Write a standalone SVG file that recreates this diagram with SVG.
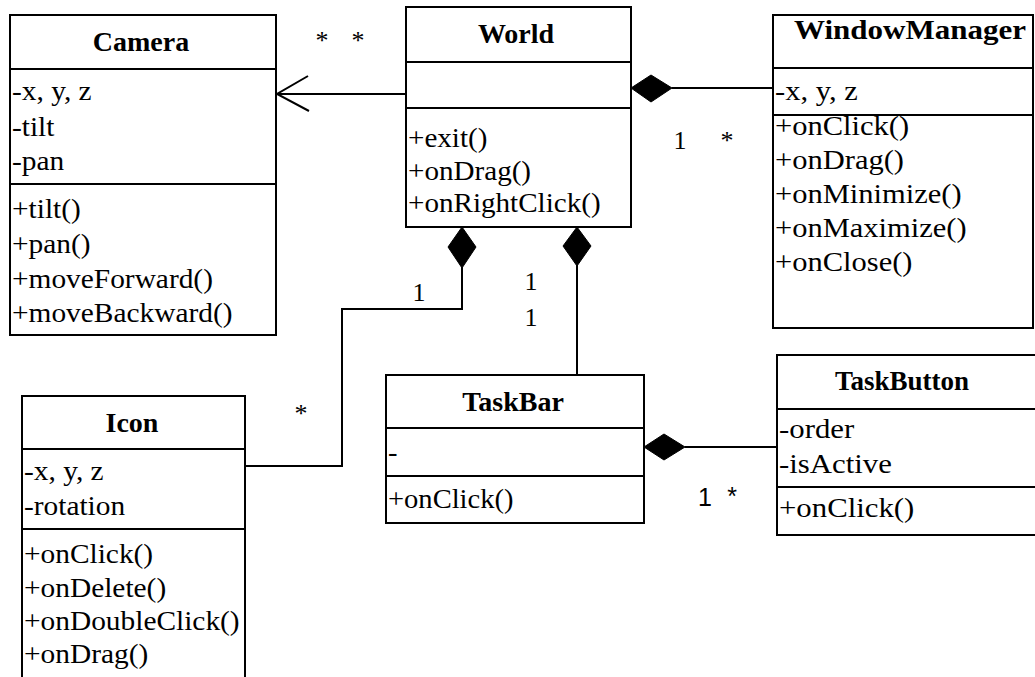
<svg xmlns="http://www.w3.org/2000/svg" width="1035" height="677" viewBox="0 0 1035 677">
<style>
.box{fill:#fff;stroke:#000;stroke-width:2}
.sep{stroke:#000;stroke-width:2}
.t{font-family:"Liberation Serif","Times New Roman",serif;font-size:28px;font-weight:bold;text-anchor:middle;fill:#000}
.m{font-family:"Liberation Serif","Times New Roman",serif;font-size:28px;fill:#000;transform-box:fill-box;transform-origin:left center}
#camera .m,#icon .m{transform:scaleX(1.05)}
#world .m{transform:scaleX(1.04)}
#windowmanager .m{transform:scaleX(1.09)}
#taskbar .m{transform:scaleX(1.02)}
#taskbutton .m{transform:scaleX(1.1)}
.lbl{font-family:"Liberation Serif","Times New Roman",serif;font-size:26px;fill:#000;text-anchor:middle}
.lbls{font-family:"Liberation Sans",Arial,sans-serif;font-size:25px;fill:#000;text-anchor:middle}
.c{fill:none;stroke:#000;stroke-width:2}
.d{fill:#000;stroke:#000;stroke-width:1}
</style>
<rect width="1035" height="677" fill="#fff"/>
<g id="connectors">
<line class="c" x1="406" y1="94" x2="277" y2="94"/>
<polyline class="c" points="308,76 277,94 309,111"/>
<line class="c" x1="672" y1="88" x2="773" y2="88"/>
<polygon class="d" points="631,88 651,75 672,88 651,102"/>
<polyline class="c" points="462,267 462,309 342,309 342,466 245,466"/>
<polygon class="d" points="462,227 476,247 462,268 448,247"/>
<line class="c" x1="577" y1="265" x2="577" y2="375"/>
<polygon class="d" points="577,227 591,246 577,266 563,246"/>
<line class="c" x1="685" y1="447" x2="777" y2="447"/>
<polygon class="d" points="644,447 664,434 685,447 664,460"/>
<text class="lbl" x="322" y="49">*</text>
<text class="lbl" x="358" y="49">*</text>
<text class="lbl" x="680" y="149">1</text>
<text class="lbl" x="727" y="149">*</text>
<text class="lbl" x="419" y="301">1</text>
<text class="lbl" x="531" y="290">1</text>
<text class="lbl" x="531" y="326">1</text>
<text class="lbl" x="301" y="422">*</text>
<text class="lbls" x="705" y="506">1</text>
<text class="lbls" x="732" y="505">*</text>
</g>
<g id="camera">
<rect class="box" x="10" y="15" width="266" height="320"/>
<line class="sep" x1="10" y1="69" x2="276" y2="69"/>
<line class="sep" x1="10" y1="184" x2="276" y2="184"/>
<text class="t" x="141" y="51">Camera</text>
<text class="m" x="12" y="100">-x, y, z</text>
<text class="m" x="12" y="136">-tilt</text>
<text class="m" x="12" y="170">-pan</text>
<text class="m" x="12" y="218">+tilt()</text>
<text class="m" x="12" y="253">+pan()</text>
<text class="m" x="12" y="288">+moveForward()</text>
<text class="m" x="12" y="322">+moveBackward()</text>
</g>
<g id="world">
<rect class="box" x="406" y="7" width="225" height="220"/>
<line class="sep" x1="406" y1="62" x2="631" y2="62"/>
<line class="sep" x1="406" y1="108" x2="631" y2="108"/>
<text class="t" x="516" y="43">World</text>
<text class="m" x="408" y="147">+exit()</text>
<text class="m" x="408" y="180">+onDrag()</text>
<text class="m" x="408" y="212">+onRightClick()</text>
</g>
<g id="windowmanager">
<rect class="box" x="773" y="15" width="260" height="313"/>
<line class="sep" x1="773" y1="68" x2="1033" y2="68"/>
<line class="sep" x1="773" y1="115" x2="1033" y2="115"/>
<text class="t" x="910" y="39" textLength="232" lengthAdjust="spacingAndGlyphs">WindowManager</text>
<text class="m" x="775" y="100">-x, y, z</text>
<text class="m" x="775" y="135">+onClick()</text>
<text class="m" x="775" y="169">+onDrag()</text>
<text class="m" x="775" y="203">+onMinimize()</text>
<text class="m" x="775" y="237">+onMaximize()</text>
<text class="m" x="775" y="271">+onClose()</text>
</g>
<g id="icon">
<rect class="box" x="22" y="396" width="223" height="300"/>
<line class="sep" x1="22" y1="449" x2="245" y2="449"/>
<line class="sep" x1="22" y1="529" x2="245" y2="529"/>
<text class="t" x="132" y="432">Icon</text>
<text class="m" x="24" y="480">-x, y, z</text>
<text class="m" x="24" y="515">-rotation</text>
<text class="m" x="24" y="563">+onClick()</text>
<text class="m" x="24" y="597">+onDelete()</text>
<text class="m" x="24" y="630">+onDoubleClick()</text>
<text class="m" x="24" y="663">+onDrag()</text>
</g>
<g id="taskbar">
<rect class="box" x="386" y="375" width="258" height="148"/>
<line class="sep" x1="386" y1="428" x2="644" y2="428"/>
<line class="sep" x1="386" y1="476" x2="644" y2="476"/>
<text class="t" x="513" y="411">TaskBar</text>
<text class="m" x="388" y="461">-</text>
<text class="m" x="388" y="508">+onClick()</text>
</g>
<g id="taskbutton">
<rect class="box" x="777" y="355" width="270" height="180"/>
<line class="sep" x1="777" y1="409" x2="1035" y2="409"/>
<line class="sep" x1="777" y1="487" x2="1035" y2="487"/>
<text class="t" x="902" y="390" style="font-size:27px">TaskButton</text>
<text class="m" x="779" y="438">-order</text>
<text class="m" x="779" y="473">-isActive</text>
<text class="m" x="779" y="517">+onClick()</text>
</g>
</svg>
